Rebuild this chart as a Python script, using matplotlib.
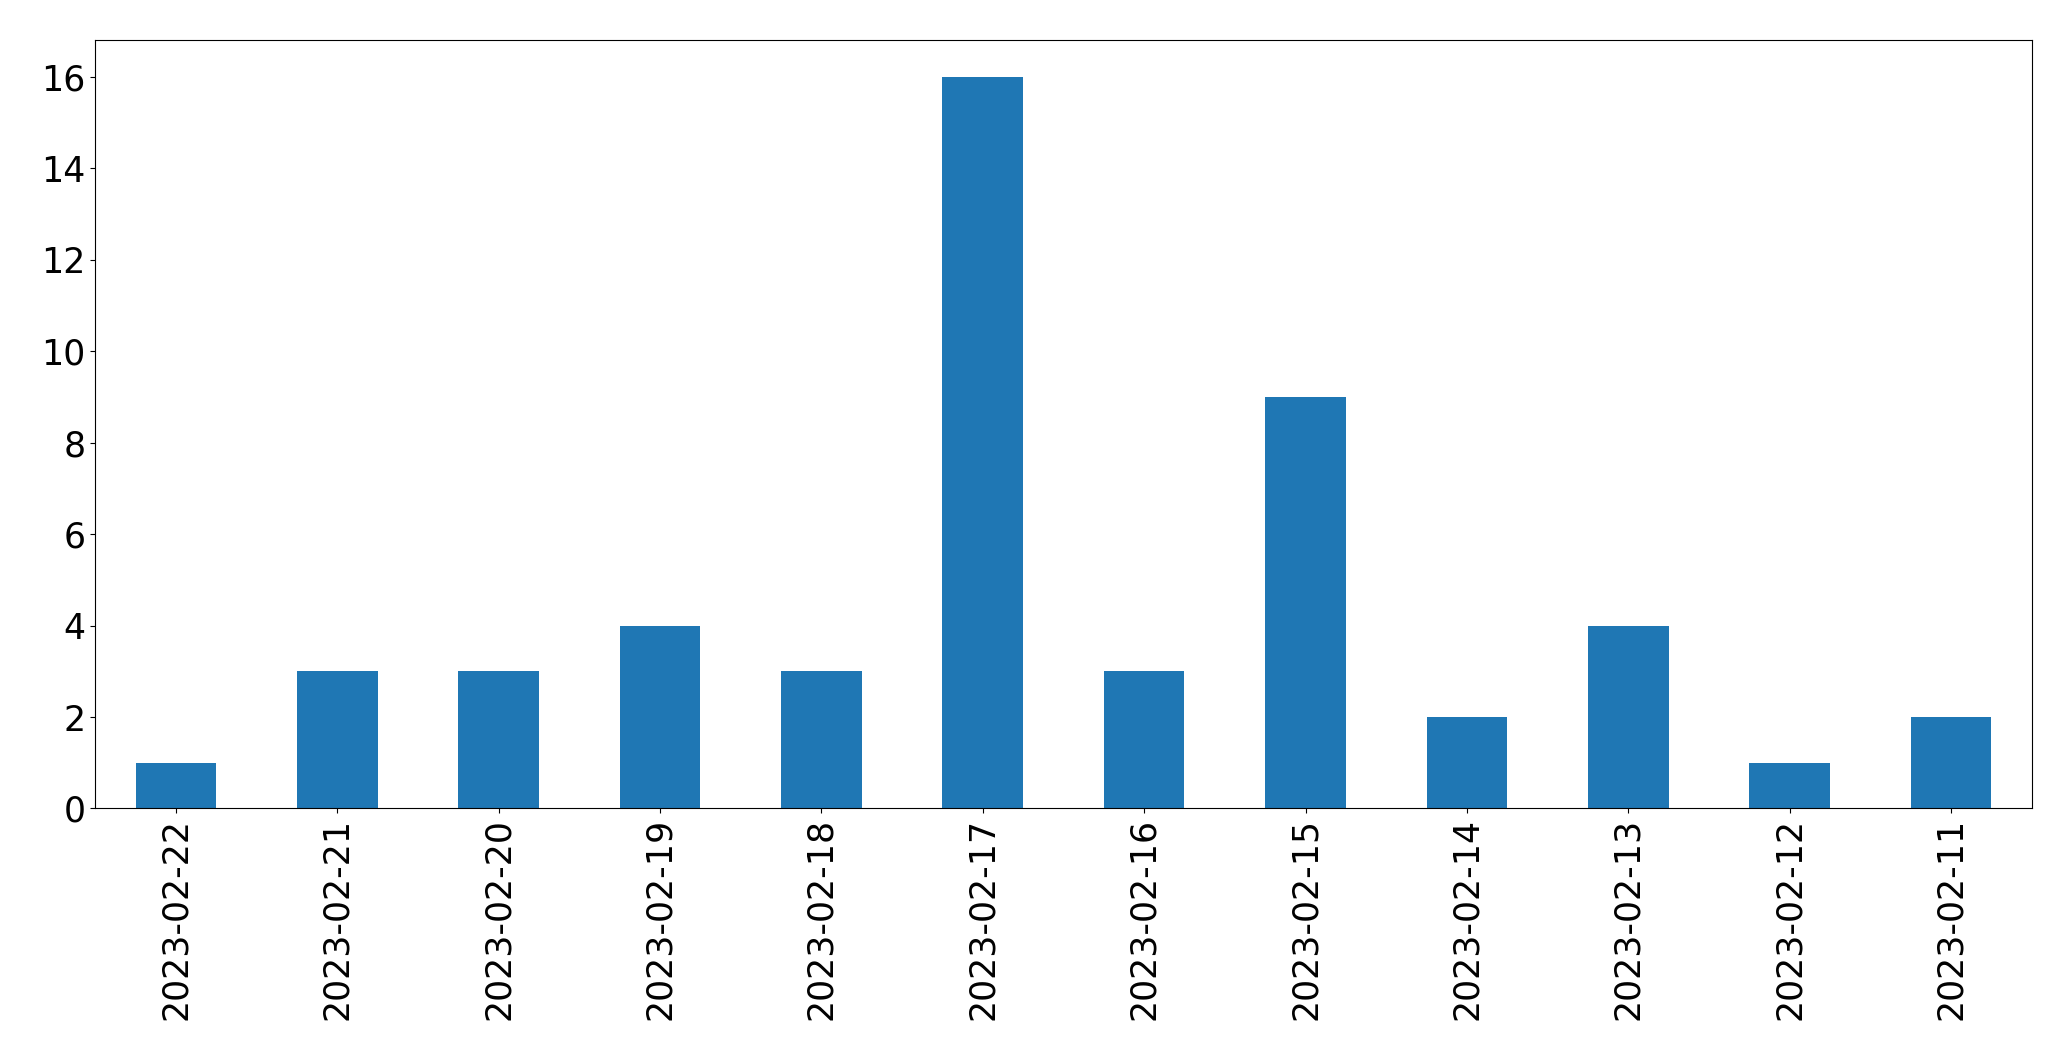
import matplotlib
matplotlib.use("Agg")
import matplotlib.pyplot as plt
import pandas as pd

dates = ["2023-02-22", "2023-02-21", "2023-02-20", "2023-02-19", "2023-02-18",
         "2023-02-17", "2023-02-16", "2023-02-15", "2023-02-14", "2023-02-13",
         "2023-02-12", "2023-02-11"]
counts = [1, 3, 3, 4, 3, 16, 3, 9, 2, 4, 1, 2]

s = pd.Series(counts, index=dates)

fig = plt.figure(figsize=(20.71, 10.61), dpi=100)
ax = fig.add_axes([0.046, 0.238, 0.935, 0.724])
s.plot(kind="bar", ax=ax, color="#1f77b4")
ax.tick_params(axis="both", labelsize=25)
ax.set_yticks(range(0, 17, 2))
fig.savefig("out.png", dpi=100)
